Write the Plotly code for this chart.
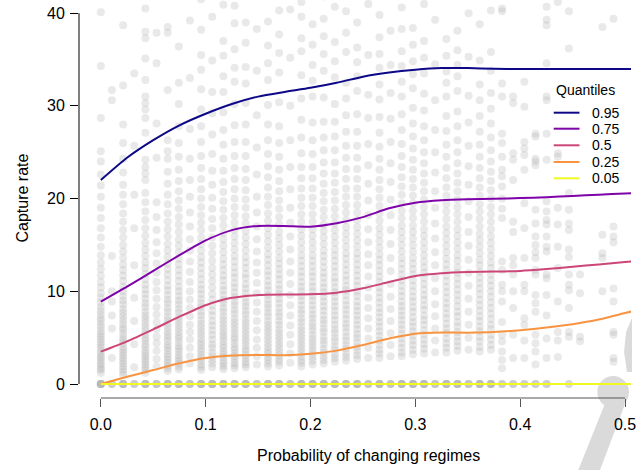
import plotly.graph_objects as go

# ---------------- data ----------------
x_levels = [0.0, 0.0106, 0.0213, 0.0319, 0.0425, 0.0532, 0.0638, 0.0744, 0.0850, 0.0957,
            0.1063, 0.1169, 0.1276, 0.1382, 0.1488, 0.1595, 0.1701, 0.1807, 0.1913, 0.2020,
            0.2126, 0.2232, 0.2339, 0.2445, 0.2551, 0.2658, 0.2764, 0.2870, 0.2977, 0.3083,
            0.3189, 0.3296, 0.3402, 0.3508, 0.3614, 0.3721, 0.3827, 0.3933, 0.4040, 0.4146,
            0.4252, 0.4359, 0.4465, 0.4571, 0.4784, 0.4890]

capture_cols = [
    [0,0,0,0,0,0,0,1.2,1.5,1.7,2.0,2.2,2.5,2.8,3.0,3.3,3.6,3.9,4.2,4.5,4.8,5.1,5.4,5.7,6.1,6.4,6.8,7.1,7.5,7.9,8.3,8.8,9.3,9.8,10.4,11.0,11.7,12.4,13.1,13.9,14.8,15.8,16.8,17.9,19.0,20.2,21.4,22.6,24.0,25.1,28.7,34.3,40.1],
    [0,0,0,2.8,6.0,7.4,8.9,10.0,13.8,30.6,31.7],
    [0,0,0,0,0,0,1.0,1.3,1.6,1.9,2.2,2.5,2.8,3.1,3.4,3.7,4.0,4.4,4.7,5.0,5.4,5.8,6.1,6.5,6.9,7.3,7.7,8.1,8.6,9.0,9.5,10.0,10.5,11.1,11.7,12.3,12.9,13.6,14.3,15.0,15.8,16.6,17.5,18.4,19.4,20.4,21.5,22.8,24.3,26.0,28.0,32.2,38.7,43.0],
    [0,0,0,1.8,4.3,6.8,9.3,12.8,16.8,20.4,25.7,33.5],
    [0,0,0,0,0,0,1.2,1.5,1.8,2.1,2.4,2.7,3.0,3.3,3.6,4.0,4.3,4.7,5.0,5.4,5.8,6.2,6.6,7.0,7.4,7.8,8.3,8.7,9.2,9.7,10.2,10.7,11.3,11.9,12.5,13.1,13.8,14.5,15.2,16.0,16.8,17.7,18.6,19.6,20.6,22.0,22.7,23.4,24.2,27.1,28.7,29.6,30.3,31.0,32.8,35.1,37.3,38.0,40.5],
    [0,0,0,0,1.9,2.7,3.6,4.4,5.1,5.9,6.7,7.5,8.3,9.2,10.1,11.0,12.0,13.0,14.1,15.3,16.6,18.0,19.6,24.4,28.1,34.6,37.9],
    [0,0,0,0,0,0,1.4,1.7,2.0,2.3,2.6,2.9,3.2,3.6,3.9,4.2,4.6,5.0,5.3,5.7,6.1,6.5,6.9,7.3,7.8,8.2,8.7,9.1,9.6,10.1,10.6,11.2,11.8,12.4,13.0,13.7,14.4,15.1,15.9,16.7,17.5,18.4,19.4,20.4,21.6,22.9,24.3,25.1,26.3,31.7,37.9,38.5],
    [0,0,0,0,0,0,1.6,1.9,2.2,2.5,2.8,3.1,3.5,3.8,4.1,4.5,4.9,5.2,5.6,6.0,6.4,6.8,7.2,7.7,8.1,8.6,9.0,9.5,10.0,10.5,11.1,11.7,12.3,12.9,13.5,14.2,14.9,15.6,16.4,17.2,18.0,18.9,19.8,20.8,21.9,23.1,24.5,26.0,27.8,30.2,32.5,36.4],
    [0,0,0,0,2.2,3.0,3.9,4.8,5.6,6.4,7.3,8.2,9.1,10.0,11.0,12.1,13.2,14.4,15.6,17.0,18.5,20.2,22.0,24.3,27.5,33.0,39.2],
    [0,0,0,0,0,0,1.5,1.8,2.1,2.5,2.8,3.1,3.5,3.8,4.2,4.5,4.9,5.3,5.7,6.1,6.5,6.9,7.4,7.8,8.3,8.7,9.2,9.7,10.2,10.7,11.3,11.9,12.5,13.1,13.7,14.4,15.1,15.8,16.6,17.4,18.2,19.1,20.0,21.0,22.1,23.3,24.6,26.1,27.8,29.6,31.8,33.9,35.5,38.2,41.5],
    [0,0,0,0,0,0,1.8,2.2,2.6,3.0,3.4,3.9,4.3,4.8,5.3,5.8,6.3,6.8,7.4,7.9,8.5,9.1,9.7,10.4,11.1,11.8,12.5,13.3,14.1,14.9,15.8,16.8,17.8,18.9,20.1,21.5,23.0,24.8,26.9,29.2,31.5,34.9,39.6],
    [0,0,0,0,0,0,1.6,1.9,2.2,2.5,2.9,3.2,3.5,3.9,4.2,4.6,5.0,5.3,5.7,6.1,6.5,6.9,7.3,7.8,8.2,8.7,9.1,9.6,10.1,10.6,11.2,11.7,12.3,12.9,13.5,14.2,14.9,15.6,16.3,17.1,17.9,18.8,19.7,20.7,21.8,23.0,24.3,25.8,27.4,29.3,31.5,33.2,35.4,37.0,40.9],
    [0,0,0,0,0,0,1.7,2.0,2.3,2.7,3.0,3.3,3.7,4.0,4.4,4.8,5.1,5.5,5.9,6.3,6.7,7.1,7.6,8.0,8.5,8.9,9.4,9.9,10.4,10.9,11.5,12.0,12.6,13.2,13.8,14.5,15.2,15.9,16.6,17.4,18.2,19.1,20.0,21.0,22.1,23.3,24.6,26.1,27.9,30.2,32.6,34.1,36.1,38.9,40.8],
    [0,0,0,0,0,0,1.8,2.1,2.4,2.8,3.1,3.5,3.8,4.2,4.6,5.0,5.4,5.8,6.2,6.6,7.0,7.5,7.9,8.4,8.8,9.3,9.8,10.3,10.8,11.4,11.9,12.5,13.1,13.7,14.4,15.1,15.8,16.5,17.3,18.1,19.0,19.9,20.9,22.0,23.2,24.6,26.1,28.0,30.3,32.4,34.2,36.8,39.0],
    [0,0,0,0,2.1,3.0,3.9,4.8,5.8,6.8,7.8,8.8,9.8,10.9,12.0,13.1,14.3,15.6,17.0,18.5,20.2,22.6,25.5,29.0,33.8,38.3],
    [0,0,0,0,0,0,1.9,2.2,2.6,2.9,3.3,3.6,4.0,4.4,4.8,5.2,5.6,6.0,6.4,6.8,7.3,7.7,8.2,8.6,9.1,9.6,10.1,10.6,11.1,11.7,12.2,12.8,13.4,14.0,14.7,15.4,16.1,16.8,17.6,18.4,19.3,20.2,21.2,22.3,23.5,24.8,26.3,28.0,30.1,32.8,34.6,36.5,39.1,42.0],
    [0,0,0,0,0,0,2.0,2.4,2.7,3.1,3.5,3.9,4.3,4.7,5.1,5.5,5.9,6.4,6.8,7.3,7.7,8.2,8.7,9.2,9.7,10.2,10.7,11.3,11.8,12.4,13.0,13.6,14.3,15.0,15.7,16.4,17.2,18.0,18.9,19.8,20.8,21.9,23.1,24.5,26.0,27.8,30.4,33.6,35.7,37.7,40.3],
    [0,0,0,0,2.3,3.3,4.3,5.3,6.3,7.4,8.5,9.6,10.8,12.0,13.2,14.5,15.9,17.4,19.0,21.0,23.4,26.3,30.0,35.2,40.4],
    [0,0,0,0,0,0,1.9,2.3,2.6,3.0,3.4,3.8,4.2,4.6,5.0,5.4,5.8,6.2,6.7,7.1,7.6,8.0,8.5,9.0,9.5,10.0,10.5,11.0,11.6,12.1,12.7,13.3,13.9,14.6,15.3,16.0,16.7,17.5,18.3,19.2,20.1,21.1,22.2,23.4,24.9,26.6,28.5,30.8,33.3,35.9,37.3,39.6,41.2],
    [0,0,0,0,0,0,2.1,2.5,2.9,3.3,3.7,4.1,4.5,4.9,5.3,5.8,6.2,6.6,7.1,7.5,8.0,8.5,9.0,9.5,10.0,10.5,11.0,11.6,12.1,12.7,13.3,13.9,14.6,15.3,16.0,16.7,17.5,18.3,19.2,20.1,21.1,22.2,23.4,24.8,26.3,28.2,31.0,32.7,34.4,36.6,38.8],
    [0,0,0,0,0,0,2.2,2.6,3.0,3.4,3.8,4.3,4.7,5.1,5.6,6.0,6.5,6.9,7.4,7.9,8.4,8.9,9.4,9.9,10.4,10.9,11.5,12.0,12.6,13.2,13.8,14.4,15.1,15.8,16.5,17.2,18.0,18.8,19.7,20.6,21.6,22.7,23.9,25.2,26.6,28.3,30.9,33.8,35.6,37.5,39.4,41.8],
    [0,0,0,0,0,0,2.4,2.8,3.2,3.7,4.1,4.6,5.0,5.5,5.9,6.4,6.9,7.4,7.9,8.4,8.9,9.4,9.9,10.4,11.0,11.5,12.1,12.7,13.3,13.9,14.5,15.2,15.9,16.6,17.3,18.1,18.9,19.8,20.7,21.7,22.7,23.9,25.2,26.7,28.3,30.2,33.1,34.8,36.9,40.7],
    [0,0,0,0,0,0,2.5,2.9,3.3,3.8,4.2,4.7,5.1,5.6,6.1,6.5,7.0,7.5,8.0,8.5,9.0,9.6,10.1,10.6,11.2,11.7,12.3,12.9,13.5,14.1,14.8,15.5,16.2,16.9,17.7,18.5,19.3,20.2,21.1,22.1,23.2,24.4,25.7,27.2,29.0,30.8,32.5,35.8,37.9,40.2],
    [0,0,0,0,0,0,2.7,3.1,3.6,4.0,4.5,5.0,5.4,5.9,6.4,6.9,7.4,7.9,8.4,8.9,9.5,10.0,10.6,11.1,11.7,12.3,12.9,13.5,14.1,14.8,15.5,16.2,16.9,17.7,18.5,19.3,20.2,21.1,22.1,23.2,24.4,25.7,27.2,29.1,31.6,33.2,34.7,36.3,39.0],
    [0,0,0,0,2.8,3.9,4.9,6.0,7.1,8.2,9.3,10.4,11.6,12.8,14.0,15.3,16.7,18.2,19.8,21.6,23.6,25.9,28.7,31.2,35.5,41.0],
    [0,0,0,0,0,0,2.8,3.3,3.7,4.2,4.7,5.2,5.7,6.2,6.7,7.2,7.7,8.2,8.8,9.3,9.9,10.4,11.0,11.6,12.2,12.8,13.4,14.0,14.7,15.4,16.1,16.8,17.6,18.4,19.2,20.1,21.0,22.0,23.1,24.3,25.6,27.1,28.8,30.7,32.3,34.1,35.6,37.4,39.8],
    [0,0,0,0,3.0,4.2,5.5,6.8,8.1,9.4,10.8,12.2,13.6,15.1,16.6,18.2,19.9,21.8,23.8,26.1,28.6,31.4,34.4,38.1],
    [0,0,0,0,0,0,3.0,3.4,3.9,4.4,4.9,5.4,5.9,6.4,6.9,7.4,7.9,8.4,8.9,9.5,10.0,10.6,11.2,11.8,12.4,13.0,13.6,14.3,15.0,15.7,16.4,17.1,17.9,18.7,19.5,20.4,21.3,22.3,23.4,24.6,25.9,27.4,29.1,31.0,32.6,34.3,35.9,38.3,40.6],
    [0,0,0,0,0,0,3.2,3.7,4.2,4.7,5.2,5.7,6.2,6.7,7.2,7.8,8.3,8.9,9.4,10.0,10.6,11.2,11.8,12.4,13.0,13.6,14.3,15.0,15.7,16.4,17.1,17.9,18.7,19.5,20.3,21.2,22.1,23.1,24.2,25.4,26.7,28.1,29.8,31.9,33.4,34.8,36.6,38.4,42.3],
    [0,0,0,0,0,0,3.3,3.8,4.3,4.8,5.3,5.8,6.4,6.9,7.4,8.0,8.5,9.1,9.6,10.2,10.8,11.4,12.0,12.6,13.2,13.9,14.6,15.3,16.0,16.7,17.5,18.3,19.1,19.9,20.8,21.7,22.7,23.8,25.0,26.3,27.8,29.5,31.3,33.5,35.2,37.0,41.0],
    [0,0,0,0,3.4,4.7,6.0,7.3,8.6,10.0,11.4,12.8,14.2,15.7,17.3,19.0,20.8,22.8,25.0,27.4,30.6,34.5,39.3],
    [0,0,0,0,0,0,3.4,3.9,4.4,4.9,5.5,6.0,6.5,7.1,7.6,8.2,8.7,9.3,9.9,10.5,11.1,11.7,12.3,12.9,13.5,14.2,14.9,15.6,16.3,17.0,17.8,18.6,19.4,20.3,21.2,22.2,23.3,24.5,25.8,27.3,28.9,31.0,32.5,33.7,35.4,37.2,42.5],
    [0,0,0,0,0,0,3.6,4.1,4.6,5.1,5.6,6.2,6.7,7.3,7.8,8.4,9.0,9.6,10.2,10.8,11.4,12.0,12.6,13.3,13.9,14.6,15.3,16.0,16.7,17.5,18.3,19.1,19.9,20.8,21.7,22.7,23.8,25.0,26.3,27.8,29.4,31.6,33.2,34.4,36.0,38.1],
    [0,0,0,0,3.7,5.0,6.4,7.8,9.2,10.6,12.0,13.4,14.9,16.4,18.0,19.7,21.5,23.5,25.7,28.2,31.1,35.3,40.0],
    [0,0,0,0,0,0,3.5,4.0,4.6,5.1,5.7,6.2,6.8,7.3,7.9,8.5,9.1,9.7,10.3,10.9,11.5,12.1,12.8,13.4,14.1,14.8,15.5,16.2,17.0,17.8,18.6,19.4,20.3,21.2,22.2,23.3,24.5,25.8,27.2,28.9,30.6,32.3,34.9,38.8],
    [0,0,0,0,0,0,3.7,4.2,4.8,5.3,5.9,6.4,7.0,7.6,8.2,8.8,9.4,10.0,10.6,11.2,11.8,12.5,13.1,13.8,14.5,15.2,15.9,16.7,17.5,18.3,19.1,20.0,20.9,21.9,22.9,24.0,25.2,26.6,28.1,29.7,31.4,33.8,35.8,40.3],
    [0,0,0,1.7,2.6,3.5,4.6,5.3,6.7,8.9,10.0,10.7,12.3,13.2,17.9,18.9,20.0,21.3,22.4,23.1,24.5,26.0,27.0,31.0,32.4,40.2,40.5],
    [0,0,0,2.8,5.3,8.2,10.0,11.8,12.8,13.6,16.4,17.5,22.0,24.2,24.9,30.3,31.0],
    [0,0,0,2.8,4.7,6.4,7.1,10.0,10.7,13.6,16.8,19.5,23.1,24.7,25.4,26.1,29.9,32.6],
    [0,0,0,2.1,3.5,4.4,5.3,7.8,8.7,9.6,11.8,12.3,13.6,14.2,15.0,15.9,17.3,18.8,23.6,24.0,24.3,26.7,27.0],
    [0,0,0,2.8,4.9,7.4,9.6,11.4,11.8,14.3,14.8,15.9,17.2,17.7,18.6,19.7,24.2,27.0,30.6,31.0,34.6,38.7,39.3,40.7],
    [2.9,4.7,5.6,8.9,12.5,14.8,17.2,19.0,24.5,24.9,41.2],
    [0,0,5.1,5.6,8.2,10.1,10.7,11.8,13.7,14.5,16.6,17.3,18.8,20.6,36.2,40.2],
    [4.6,5.1,9.8,11.8],
    [10.0,13.6,14.1,16.1,38.5],
    [2.4,2.8,5.3,5.6,8.9,10.3,15.3,15.9,17.0,39.4],
]

quantile_x = [0, 0.025, 0.05, 0.075, 0.1, 0.125, 0.15, 0.175, 0.2, 0.225, 0.25, 0.275,
              0.3, 0.325, 0.35, 0.375, 0.4, 0.425, 0.45, 0.475, 0.5, 0.52]
q95 = [22.0, 24.4, 26.3, 27.9, 29.15, 30.2, 31.0, 31.5, 31.95, 32.5, 33.15, 33.6,
       33.9, 34.08, 34.08, 34.0, 33.98, 33.98, 33.98, 33.98, 33.98, 33.98]
q75 = [8.88, 10.5, 12.2, 13.9, 15.5, 16.6, 17.05, 17.05, 16.97, 17.35, 18.0, 18.95,
       19.55, 19.82, 19.93, 19.98, 20.05, 20.15, 20.28, 20.42, 20.55, 20.65]
q50 = [3.49, 4.6, 5.9, 7.26, 8.5, 9.3, 9.6, 9.66, 9.67, 9.85, 10.32, 11.0,
       11.65, 11.95, 12.08, 12.13, 12.2, 12.4, 12.65, 12.9, 13.15, 13.35]
q25 = [0.0, 0.78, 1.5, 2.23, 2.8, 3.08, 3.14, 3.1, 3.25, 3.6, 4.2, 4.9,
       5.42, 5.55, 5.54, 5.6, 5.8, 6.1, 6.45, 6.95, 7.65, 8.2]
q05 = [0.0, 0.0, 0.0, 0.0, 0.0, 0.0, 0.0, 0.0, 0.0, 0.0, 0.0, 0.0,
       0.0, 0.0, 0.0, 0.0, 0.0, 0.0, 0.0, 0.0, 0.0, 0.0]

quantile_labels = ["0.95", "0.75", "0.5", "0.25", "0.05"]
quantile_colors = ["#0D0887", "#7E03A8", "#CC4678", "#F89441", "#F0F921"]
quantile_series = [q95, q75, q50, q25, q05]

x_ticks = [0.0, 0.1, 0.2, 0.3, 0.4, 0.5]
x_ticktext = ["0.0", "0.1", "0.2", "0.3", "0.4", "0.5"]
y_ticks = [0, 10, 20, 30, 40]
y_ticktext = ["0", "10", "20", "30", "40"]

# ---------------- figure ----------------
W, H = 636, 470
ML, MR, MT, MB = 79, 0, 0, 72
PW, PH = W - ML - MR, H - MT - MB

def px_to_paper(px, py):
    return (px - ML) / PW, (H - MB - py) / PH

FONT = "Liberation Sans, Arial, Helvetica, sans-serif"

xs, ys = [], []
for xv, col in zip(x_levels, capture_cols):
    xs += [xv] * len(col)
    ys += col

fig = go.Figure()
fig.add_trace(go.Scatter(
    x=xs, y=ys, mode="markers",
    marker=dict(size=8, color="rgba(175,175,175,0.28)", line=dict(width=0)),
    showlegend=False, hoverinfo="skip"))

for lab, col, qs in zip(quantile_labels, quantile_colors, quantile_series):
    fig.add_trace(go.Scatter(
        x=quantile_x, y=qs, mode="lines", name=lab,
        line=dict(color=col, width=2, shape="spline", smoothing=0.6),
        showlegend=False))

shapes = [
    dict(type="line", xref="x", yref="paper", x0=0, x1=0.5, y0=0, y1=0,
         line=dict(color="#555555", width=1)),
    dict(type="line", xref="paper", yref="y", x0=0, x1=0, y0=0, y1=40,
         line=dict(color="black", width=1)),
]

# faint watermark fragment in the bottom-right corner
def pix_path(points):
    parts = []
    for i, (px, py) in enumerate(points):
        xp, yp = px_to_paper(px, py)
        parts.append(("M" if i == 0 else "L") + f"{xp:.4f},{yp:.4f}")
    return " ".join(parts) + " Z"

WM = "#dadada"
shapes.append(dict(type="path", xref="paper", yref="paper", layer="below",
                   path=pix_path([(582, 472), (604, 472), (630, 404), (612, 398)]),
                   fillcolor=WM, line=dict(width=0)))
cx0, cy0 = px_to_paper(602, 408)
cx1, cy1 = px_to_paper(634, 376)
shapes.append(dict(type="circle", xref="paper", yref="paper", layer="below",
                   x0=cx0, y0=cy0, x1=cx1, y1=cy1, fillcolor=WM, line=dict(width=0)))
shapes.append(dict(type="path", xref="paper", yref="paper", layer="below",
                   path=pix_path([(637, 318), (631, 332), (629, 352), (632, 372), (637, 372)]),
                   fillcolor=WM, line=dict(width=0)))

annotations = []

# manual legend (R style, no box)
tx, ty = px_to_paper(558, 90)
annotations.append(dict(text="Quantiles", x=tx, y=ty, xref="paper", yref="paper",
                        xanchor="left", yanchor="middle", showarrow=False,
                        font=dict(family=FONT, size=14, color="black")))
leg_rows = [112.7, 128.7, 145.3, 162.0, 178.3]
for lab, col, row in zip(quantile_labels, quantile_colors, leg_rows):
    x0, yy = px_to_paper(558, row)
    x1, _ = px_to_paper(584, row)
    shapes.append(dict(type="line", xref="paper", yref="paper", x0=x0, x1=x1, y0=yy, y1=yy,
                       line=dict(color=col, width=2)))
    lx, _ = px_to_paper(595, row)
    annotations.append(dict(text=lab, x=lx, y=yy, xref="paper", yref="paper",
                            xanchor="left", yanchor="middle", showarrow=False,
                            font=dict(family=FONT, size=14, color="black")))

# axis titles
ax, ay = px_to_paper(371, 455)
annotations.append(dict(text="Probability of changing regimes", x=ax, y=ay, xref="paper", yref="paper",
                        xanchor="center", yanchor="middle", showarrow=False,
                        font=dict(family=FONT, size=16, color="black")))
ax, ay = px_to_paper(21, 198)
annotations.append(dict(text="Capture rate", x=ax, y=ay, xref="paper", yref="paper",
                        xanchor="center", yanchor="middle", showarrow=False, textangle=-90,
                        font=dict(family=FONT, size=16, color="black")))

fig.update_layout(
    width=W, height=H,
    margin=dict(l=ML, r=MR, t=MT, b=MB, pad=0),
    paper_bgcolor="white", plot_bgcolor="white",
    font=dict(family=FONT, size=16, color="black"),
    shapes=shapes, annotations=annotations,
    xaxis=dict(range=[-0.0208, 0.5057], showgrid=False, zeroline=False, showline=False,
               ticks="outside", ticklen=8, tickcolor="#555555", tickwidth=1,
               tickvals=x_ticks, ticktext=x_ticktext, ticklabeloverflow="allow",
               ticklabelstandoff=4,
               tickfont=dict(family=FONT, size=16, color="black")),
    yaxis=dict(range=[-1.51, 41.42], showgrid=False, zeroline=False, showline=False,
               ticks="outside", ticklen=8, tickcolor="black", tickwidth=1,
               tickvals=y_ticks, ticktext=y_ticktext, ticklabelstandoff=2,
               tickfont=dict(family=FONT, size=16, color="black")),
)

fig.write_html("out.html")
